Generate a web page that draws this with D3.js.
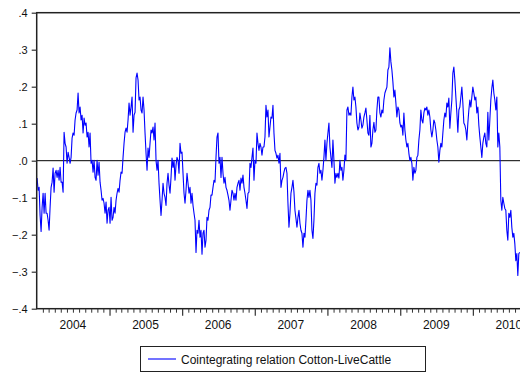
<!DOCTYPE html>
<html>
<head>
<meta charset="utf-8">
<script src="https://cdn.jsdelivr.net/npm/d3@7"></script>
<style>
  body { margin: 0; background: #fff; }
  svg { display: block; font-family: Arial, "Liberation Sans", sans-serif; }
</style>
</head>
<body>
<svg id="chart"></svg>
<script>
// Cointegrating relation Cotton-LiveCattle (roughly 5-day spacing)
const values2004 = [
  -.047,-.080,-.072,-.148,-.191,-.126,-.088,-.142,-.088,-.142,
  -.142,-.161,-.188,-.126,-.072,-.058,-.020,-.085,-.034,-.026,
  -.045,-.026,-.053,-.018,-.058,-.058,-.085,.077,.047,.037,
  -.007,.023,.009,-.007,.009,.061,.075,.069,.110,.129,
  .137,.183,.129,.145,.110,.123,.075,.115,.096,.102,
  .064,.077,.037,.075,-.007,.001,-.031,.001,-.045,-.053,
  .001,-.039,-.004,-.058,-.080,-.107,-.102,-.115,-.142,-.112,
  -.169,-.134,-.126,-.169,-.099,-.161,-.153,-.126,-.142,-.107,
  -.088,-.075,-.085,-.053,-.031,-.034,.009,.047,.077,.088,
  .077,.110,.156
];
const values2005to2007 = [
  .123,.145,.172,.077,.123,.131,.224,.237,.218,.164,
  .172,.137,.129,.172,.137,.075,.020,-.026,.034,.009,
  .047,.083,.075,.091,.056,.102,.001,-.026,.001,-.061,
  -.107,-.148,-.107,-.061,-.088,-.099,-.121,-.061,-.034,-.066,
  -.088,-.045,.007,-.018,.001,-.053,-.012,.009,.001,-.034,
  .047,.020,.023,-.034,-.088,-.115,-.080,-.034,-.061,-.088,
  -.072,-.115,-.088,-.121,-.142,-.161,-.248,-.188,-.196,-.161,
  -.207,-.188,-.253,-.196,-.188,-.234,-.215,-.153,-.161,-.134,
  -.126,-.093,-.093,-.072,-.053,-.058,.009,.064,.075,-.007,
  .009,-.045,.009,-.034,-.061,-.045,-.072,-.080,-.093,-.107,
  -.134,-.107,-.080,-.088,-.107,-.088,-.107,-.072,-.061,-.053,
  -.080,-.047,-.061,-.039,-.072,-.088,-.107,-.129,-.088,-.085,
  -.007,-.018,.009,.034,-.053,.001,-.007,.075,.047,.028,
  .047,.037,.015,.037,.037,.064,.150,.118,.137,.064,
  .091,.118,.115,.150,.075,.028,.020,.007,.015,-.007,
  .020
];
const values2007to2010 = [
  -.072,-.053,-.045,-.031,-.020,-.018,-.034,
  -.115,-.180,-.142,-.088,-.072,-.053,-.085,-.134,-.156,-.180,
  -.153,-.134,-.169,-.188,-.196,-.234,-.196,-.207,-.161,-.107,
  -.080,-.099,-.080,-.107,-.188,-.210,-.161,-.088,-.061,-.066,
  -.018,-.007,-.034,-.026,-.053,-.026,.009,.056,.001,.047,
  .075,.102,.037,.009,-.018,.056,.001,-.061,-.034,-.045,
  -.034,-.047,.001,-.026,-.018,-.053,-.026,.015,.001,.137,
  .145,.123,.129,.123,.172,.199,.164,.172,.145,.102,
  .083,.091,.129,.110,.088,.096,.118,.129,.142,.110,
  .075,.069,.123,.037,.047,.083,.104,.077,.083,.137,
  .172,.172,.129,.118,.137,.129,.164,.183,.191,.199,
  .245,.253,.305,.267,.245,.213,.172,.191,.156,.118,
  .145,.137,.102,.091,.096,.069,.129,.083,.056,.037,
  .047,.020,.001,.009,-.007,-.053,-.018,-.034,-.026,.009,
  .015,.056,.083,.137,.110,.102,.129,.142,.137,.145,
  .123,.137,.118,.083,.064,.083,.110,.102,.083,.056,
  .037,-.004,.028,.047,.037,.075,.110,.129,.118,.156,
  .145,.169,.088,.129,.164,.237,.253,.218,.172,.129,
  .077,.137,.145,.172,.199,.156,.102,.096,.083,.056,
  .102,.137,.164,.145,.172,.199,.183,.164,.172,.129,
  .145,.096,.064,.037,.009,.047,.064,.075,.047,.037,
  .131,.056,.110,.164,.196,.218,.183,.164,.137,.172,
  .037,.075,.037,-.107,-.134,-.099,-.115,-.129,-.134,-.188,
  -.215,-.142,-.153,-.134,-.180,-.207,-.196,-.224,-.270,-.251,
  -.310,-.251,-.248
];
const seriesName = 'Cointegrating relation Cotton-LiveCattle';
const firstDate = new Date(2004, 0, 3);
const lastDate = new Date(2010, 7, 25);
const yTicks = [-.4, -.3, -.2, -.1, 0, .1, .2, .3, .4];
const yearLabels = [2004, 2005, 2006, 2007, 2008, 2009, 2010];

const values = [...values2004, ...values2005to2007, ...values2007to2010];
const data = values.map((v, i) => ({
  date: new Date(+firstDate + (lastDate - firstDate) * i / (values.length - 1)),
  value: v
}));

const width = 520;
const height = 374;
const plot = { left: 36.7, top: 12.7, bottom: 308.7, right: 524 };

const svg = d3.select('#chart')
  .attr('width', width)
  .attr('height', height);

const xEnd = new Date(2010, 8, 15);
const x = d3.scaleTime()
  .domain([new Date(2004, 0, 1), xEnd])
  .range([plot.left, plot.right]);

const y = d3.scaleLinear()
  .domain([-0.4, 0.4])
  .range([plot.bottom, plot.top]);

const fmt = v => {
  const s = d3.format('.1f')(v);
  return s.replace('0.', '.');
};

// zero line
svg.append('line')
  .attr('x1', plot.left).attr('x2', plot.right)
  .attr('y1', y(0)).attr('y2', y(0))
  .attr('stroke', '#000')
  .attr('stroke-width', 1);

// series
const line = d3.line()
  .x(d => x(d.date))
  .y(d => y(d.value));

svg.append('path')
  .datum(data)
  .attr('fill', 'none')
  .attr('stroke', '#0000ff')
  .attr('stroke-width', 1.1)
  .attr('stroke-linejoin', 'round')
  .attr('d', line);

// frame
svg.append('rect')
  .attr('x', plot.left).attr('y', plot.top)
  .attr('width', plot.right - plot.left)
  .attr('height', plot.bottom - plot.top)
  .attr('fill', 'none')
  .attr('stroke', '#222')
  .attr('stroke-width', 1.5);

// y axis
const yAxis = svg.append('g')
  .attr('transform', `translate(${plot.left},0)`)
  .call(d3.axisLeft(y).tickValues(yTicks).tickFormat(fmt).tickSize(5).tickPadding(4));
yAxis.select('.domain').remove();
yAxis.selectAll('line').attr('stroke', '#333').attr('stroke-width', 1.2);
yAxis.selectAll('text').attr('font-size', 11).attr('fill', '#111');

// x axis: monthly minor ticks, yearly major ticks
const months = d3.timeMonth.range(new Date(2004, 1, 1), xEnd)
  .filter(d => d.getMonth() !== 0);
const years = d3.timeYear.range(new Date(2005, 0, 1), xEnd);

const xMinor = svg.append('g')
  .attr('transform', `translate(0,${plot.bottom})`)
  .call(d3.axisBottom(x).tickValues(months).tickSize(4).tickFormat(''));
xMinor.select('.domain').remove();
xMinor.selectAll('line').attr('stroke', '#333').attr('stroke-width', 1);

const xMajor = svg.append('g')
  .attr('transform', `translate(0,${plot.bottom})`)
  .call(d3.axisBottom(x).tickValues(years).tickSize(7).tickFormat(''));
xMajor.select('.domain').remove();
xMajor.selectAll('line').attr('stroke', '#333').attr('stroke-width', 1.2);

svg.append('g')
  .selectAll('text')
  .data(yearLabels)
  .join('text')
  .attr('x', d => x(new Date(d, 6, 1)))
  .attr('y', 329)
  .attr('text-anchor', 'middle')
  .attr('font-size', 12)
  .attr('fill', '#111')
  .text(d => d);

// legend
const legend = svg.append('g').attr('transform', 'translate(140,346)');
legend.append('rect')
  .attr('x', 0.5).attr('y', 0.5)
  .attr('width', 285).attr('height', 25)
  .attr('fill', '#fff')
  .attr('stroke', '#222')
  .attr('stroke-width', 1);
legend.append('line')
  .attr('x1', 8).attr('x2', 36)
  .attr('y1', 13).attr('y2', 13)
  .attr('stroke', '#0000ff')
  .attr('stroke-width', 1.1);
legend.append('text')
  .attr('x', 41).attr('y', 17.5)
  .attr('font-size', 12)
  .attr('fill', '#111')
  .text(seriesName);
</script>
</body>
</html>
